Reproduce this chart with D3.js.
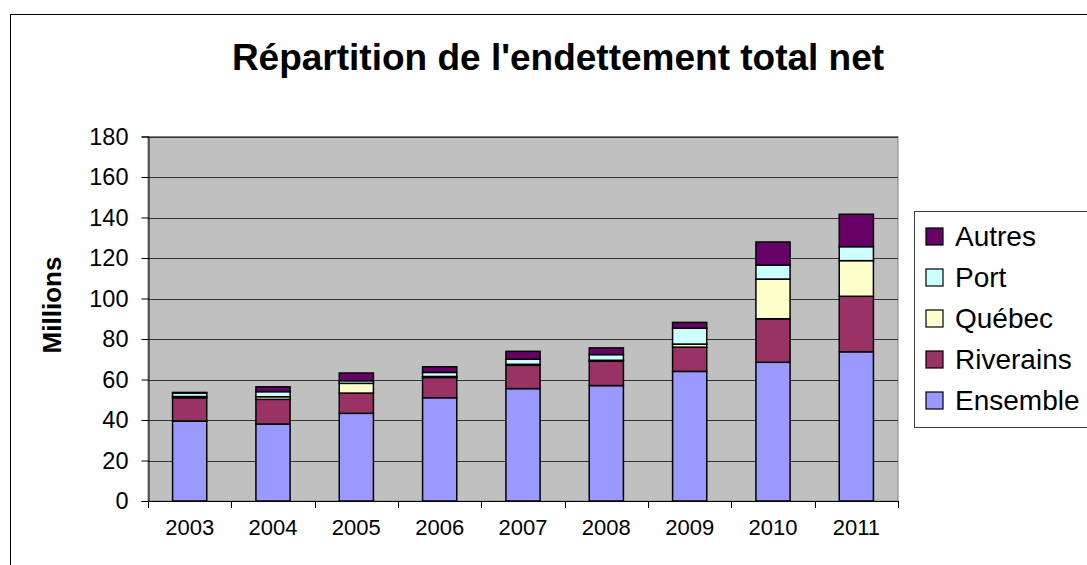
<!DOCTYPE html>
<html>
<head>
<meta charset="utf-8">
<script src="https://cdn.jsdelivr.net/npm/d3@7"></script>
<style>
  body { margin: 0; background: #fff; }
  text { font-family: Arial, "Liberation Sans", sans-serif; }
</style>
</head>
<body>
<div id="chart-area"></div>
<script>
// data
var years = ["2003", "2004", "2005", "2006", "2007", "2008", "2009", "2010", "2011"];
var ensemble  = [39.5, 38, 43.3, 51, 55.5, 57, 64, 68.5, 73.7];
var riverains = [11.5, 12.2, 10, 10, 11.5, 12, 12, 21.5, 27.4];
var quebec    = [0.6, 1.3, 4.8, 0.5, 0.5, 0.5, 1.5, 19.6, 17.6];
var port      = [1.7, 2.5, 1.3, 2, 2.5, 2.8, 7.8, 6.9, 6.9];
var autres    = [0.3, 2.4, 3.8, 2.8, 3.9, 3.3, 2.9, 11.4, 16];
var seriesNames = ["Ensemble", "Riverains", "Québec", "Port", "Autres"];
var yTicks = [0, 20, 40, 60, 80, 100, 120, 140, 160, 180];

var colors = {
  "Ensemble": "#9999ff",
  "Riverains": "#993366",
  "Québec": "#ffffcc",
  "Port": "#ccffff",
  "Autres": "#660066"
};

var W = 1087, H = 565;
var svg = d3.select("#chart-area").append("svg")
            .attr("width", W)
            .attr("height", H);

// outer chart frame (runs past the right and bottom edges)
svg.append("rect")
   .attr("x", 10.5).attr("y", 14.5)
   .attr("width", W + 20).attr("height", H + 20)
   .attr("fill", "#fff").attr("stroke", "#000").attr("stroke-width", 1);

svg.append("text")
   .attr("x", 558).attr("y", 70)
   .attr("text-anchor", "middle")
   .style("font-size", "37px").style("font-weight", "bold")
   .text("Répartition de l'endettement total net");

var pLeft = 148, pRight = 898, pTop = 136.5, pBottom = 501;

var rows = years.map((yr, i) => ({
  year: yr,
  "Ensemble": ensemble[i],
  "Riverains": riverains[i],
  "Québec": quebec[i],
  "Port": port[i],
  "Autres": autres[i]
}));

var stack = d3.stack().keys(seriesNames)(rows);

var x = d3.scaleBand()
          .domain(years)
          .range([pLeft, pRight])
          .paddingInner(0.59)
          .paddingOuter(0.295);

var y = d3.scaleLinear()
          .domain([0, 180])
          .range([pBottom, pTop]);

// plot area
svg.append("rect")
   .attr("x", pLeft).attr("y", pTop)
   .attr("width", pRight - pLeft).attr("height", pBottom - pTop)
   .attr("fill", "#c0c0c0").attr("stroke", "#808080");

// grid lines
svg.append("g").selectAll("line")
   .data(yTicks.slice(1))
   .enter().append("line")
     .attr("x1", pLeft).attr("x2", pRight)
     .attr("y1", d => Math.round(y(d)) + 0.5)
     .attr("y2", d => Math.round(y(d)) + 0.5)
     .attr("stroke", "#333").attr("stroke-width", 1);

// bars
svg.append("g").selectAll("g")
   .data(stack)
   .enter().append("g")
     .attr("fill", d => colors[d.key])
   .selectAll("rect")
   .data(d => d)
   .enter().append("rect")
     .attr("x", d => x(d.data.year))
     .attr("y", d => y(d[1]))
     .attr("width", x.bandwidth())
     .attr("height", d => y(d[0]) - y(d[1]))
     .attr("stroke", "#000").attr("stroke-width", 1.5);

// y axis
var yAxis = d3.axisLeft(y).tickValues(yTicks).tickSize(7).tickPadding(13);
var gy = svg.append("g").attr("transform", "translate(" + (pLeft + 0.5) + ",0)").call(yAxis);
gy.select(".domain").attr("stroke", "#000");
gy.selectAll(".tick line").attr("stroke", "#000");
gy.selectAll("text").style("font-size", "23.5px").attr("fill", "#000")
  .style("font-family", "Arial, 'Liberation Sans', sans-serif");

// x axis with ticks between categories
var xAxisLine = svg.append("g");
xAxisLine.append("line")
   .attr("x1", pLeft).attr("x2", pRight)
   .attr("y1", pBottom + 0.5).attr("y2", pBottom + 0.5)
   .attr("stroke", "#000");
xAxisLine.selectAll(".tk")
   .data(d3.range(years.length + 1))
   .enter().append("line")
     .attr("x1", i => Math.round(pLeft + i * (pRight - pLeft) / years.length) + 0.5)
     .attr("x2", i => Math.round(pLeft + i * (pRight - pLeft) / years.length) + 0.5)
     .attr("y1", pBottom).attr("y2", pBottom + 7)
     .attr("stroke", "#000");
xAxisLine.selectAll("text")
   .data(years)
   .enter().append("text")
     .attr("x", d => x(d) + x.bandwidth() / 2)
     .attr("y", 535)
     .attr("text-anchor", "middle")
     .style("font-size", "22px")
     .text(d => d);

// y axis title
svg.append("text")
   .attr("transform", "translate(61,305) rotate(-90)")
   .attr("text-anchor", "middle")
   .style("font-size", "26px").style("font-weight", "bold")
   .text("Millions");

// legend
var legend = svg.append("g");
legend.append("rect")
   .attr("x", 914.5).attr("y", 211.5)
   .attr("width", 200).attr("height", 216)
   .attr("fill", "#fff").attr("stroke", "#404040");
var legendOrder = seriesNames.slice().reverse();
var items = legend.selectAll(".item")
   .data(legendOrder)
   .enter().append("g")
     .attr("transform", (d, i) => "translate(926," + (228 + i * 41) + ")");
items.append("rect")
   .attr("width", 17).attr("height", 17)
   .attr("fill", d => colors[d])
   .attr("stroke", "#000").attr("stroke-width", 1.2);
items.append("text")
   .attr("x", 29).attr("y", 18)
   .style("font-size", "28px")
   .text(d => d);
</script>
</body>
</html>
